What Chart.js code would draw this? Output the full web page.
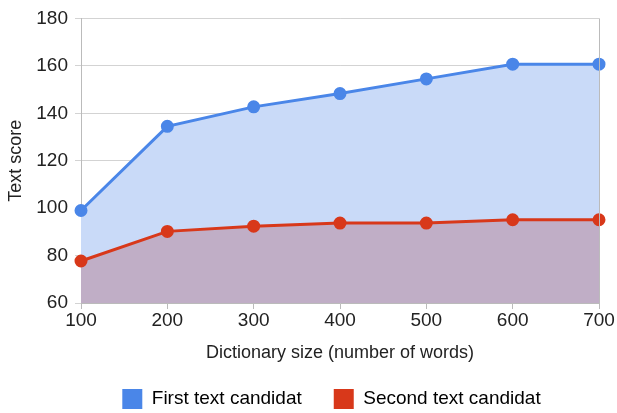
<!DOCTYPE html>
<html>
<head>
<meta charset="utf-8">
<script src="https://cdn.jsdelivr.net/npm/chart.js@4/dist/chart.umd.min.js"></script>
<style>
  html, body { margin: 0; padding: 0; background: #fff; }
  #wrap { width: 617px; height: 413px; }
</style>
</head>
<body>
<div id="wrap"><canvas id="c" width="617" height="413"></canvas></div>
<script>
// dictionary sizes on the x axis
const dictSizes = ['100', '200', '300', '400', '500', '600', '700'];
const firstCandidat = [99, 134.5, 142.7, 148.3, 154.5, 160.7, 160.7];
const secondCandidat = [77.7, 90.2, 92.4, 93.7, 93.7, 95.1, 95.1];
const yTicks = [60, 80, 100, 120, 140, 160, 180];

const font = 'Liberation Sans, Arial, sans-serif';
const blue = '#4a86e8';
const red = '#d8381a';

new Chart(document.getElementById('c').getContext('2d'), {
  type: 'line',
  data: {
    labels: dictSizes,
    datasets: [
      {
        label: 'First text candidat',
        data: firstCandidat,
        borderColor: blue,
        backgroundColor: '#c9daf8',
        pointBackgroundColor: blue,
        pointBorderColor: blue,
        borderWidth: 3,
        pointRadius: 5,
        fill: '+1',
        tension: 0
      },
      {
        label: 'Second text candidat',
        data: secondCandidat,
        borderColor: red,
        backgroundColor: '#c0aec6',
        pointBackgroundColor: red,
        pointBorderColor: red,
        borderWidth: 3,
        pointRadius: 5,
        fill: 'origin',
        tension: 0
      }
    ]
  },
  options: {
    responsive: false,
    animation: false,
    layout: { padding: { left: 0, right: 18, top: 6, bottom: -6 } },
    plugins: {
      filler: { drawTime: 'beforeDatasetsDraw' },
      tooltip: { enabled: false },
      legend: {
        position: 'bottom',
        labels: {
          color: '#222',
          font: { family: font, size: 19 },
          boxWidth: 20,
          boxHeight: 20,
          padding: 32,
          generateLabels: (chart) => chart.data.datasets.map((ds, i) => ({
            text: ds.label,
            fillStyle: ds.borderColor,
            strokeStyle: ds.borderColor,
            lineWidth: 0,
            datasetIndex: i
          }))
        }
      }
    },
    scales: {
      x: {
        offset: false,
        z: 1,
        afterFit: (s) => { s.height = 54; },
        grid: { display: true, drawOnChartArea: false, color: '#bbb', tickLength: 6 },
        border: { color: '#bbb' },
        ticks: { color: '#222', font: { family: font, size: 19 }, padding: 0, maxRotation: 0 },
        title: {
          display: true,
          text: 'Dictionary size (number of words)',
          color: '#222',
          font: { family: font, size: 18 },
          padding: { top: 12, bottom: -7 }
        }
      },
      y: {
        min: 60,
        max: 180,
        z: 1,
        afterBuildTicks: (s) => { s.ticks = yTicks.map((v) => ({ value: v })); },
        afterFit: (s) => { s.width = 81; },
        grid: { color: 'rgba(130,130,130,0.35)', tickLength: 6 },
        border: { color: '#bbb' },
        ticks: { color: '#222', font: { family: font, size: 19 }, padding: 7 },
        title: {
          display: true,
          text: 'Text score',
          color: '#222',
          font: { family: font, size: 18 },
          padding: { top: 5, bottom: 6 }
        }
      }
    }
  },
  plugins: [{
    id: 'rightEdge',
    afterLayout(chart) {
      // legend sits a bit right of the canvas centre in the original
      if (chart.legend) {
        chart.legend.left += 32;
        chart.legend.right += 32;
      }
    },
    afterDraw(chart) {
      const a = chart.chartArea;
      const ctx = chart.ctx;
      ctx.save();
      ctx.strokeStyle = '#bbb';
      ctx.lineWidth = 1;
      ctx.beginPath();
      ctx.moveTo(Math.round(a.right) + 0.5, a.top);
      ctx.lineTo(Math.round(a.right) + 0.5, a.bottom);
      ctx.stroke();
      ctx.restore();
    }
  }]
});
</script>
</body>
</html>
